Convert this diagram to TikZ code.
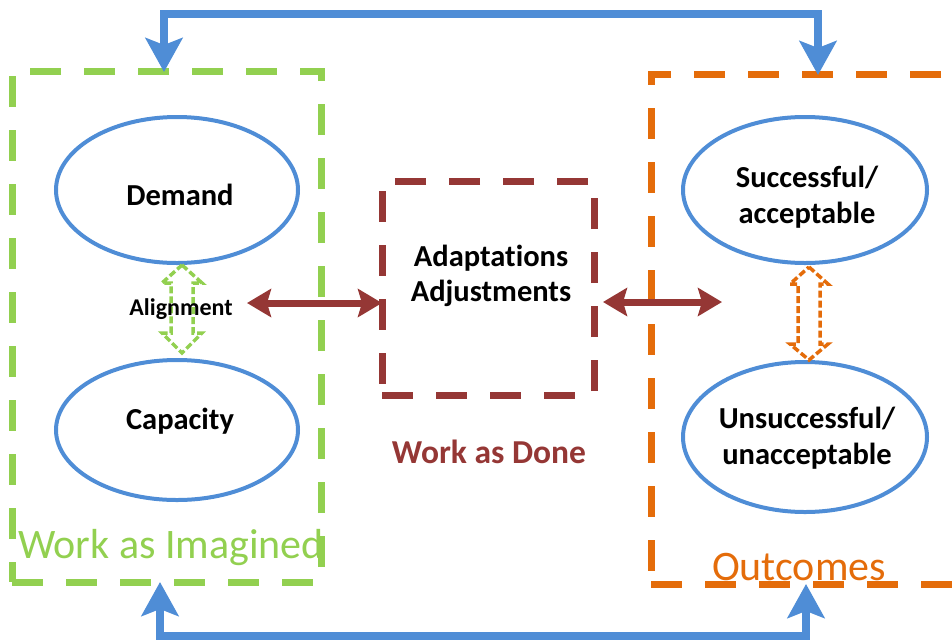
\documentclass[tikz,border=0pt]{standalone}
\usepackage{fontspec}
\setmainfont[RawFeature={-liga;-clig;-dlig}]{Carlito}
\usetikzlibrary{arrows.meta,shapes.geometric}
\definecolor{cblue}{HTML}{4F8DD6}
\definecolor{cgreen}{HTML}{92D050}
\definecolor{corange}{HTML}{E46C0A}
\definecolor{cbrown}{HTML}{953735}
\tikzset{
  ellnode/.style={ellipse, draw=cblue, line width=4pt, minimum width=242pt,
    minimum height=146pt, inner sep=0pt},
  elltext/.style={align=center, text=black, inner sep=0pt,
    font=\bfseries\fontsize{30.5}{36}\selectfont},
  boxline/.style={draw=#1, line width=7pt, dash pattern=on 31pt off 23pt,
    inner sep=0pt, rectangle},
  loopconn/.style={draw=cblue, line width=8pt, {Stealth[length=34pt,width=37pt,inset=7pt]}-{Stealth[length=34pt,width=37pt,inset=7pt]}},
  brownconn/.style={draw=cbrown, line width=7pt, {Stealth[length=24pt,width=28pt,inset=4pt]}-{Stealth[length=24pt,width=28pt,inset=4pt]}},
  hollow/.style={draw=#1, line width=3.5pt, dash pattern=on 7pt off 3pt, line join=miter},
  biglabel/.style={font=\fontsize{42}{46}\selectfont, text=#1, inner sep=0pt},
}
\begin{document}
\begin{tikzpicture}[x=1pt,y=-1pt]
\useasboundingbox (0,0) rectangle (952,643);
\clip (0,0) rectangle (952,643);

% dashed boxes
\node[boxline=cgreen, minimum width=309pt, minimum height=511pt] (wibox) at (166.5,326.5) {};
\node[boxline=cbrown, minimum width=212pt, minimum height=214pt] (wadbox) at (488,288) {};
\node[boxline=corange, minimum width=349pt, minimum height=510pt] (outbox) at (825.5,329) {};

% ellipses
\node[ellnode] (demand) at (177,190) {};
\node[ellnode, minimum height=140pt] (capacity) at (177,430) {};
\node[ellnode, minimum width=244pt] (succ) at (805,190) {};
\node[ellnode, minimum width=244pt, minimum height=150pt] (unsucc) at (805,437) {};
\node[elltext] (demandtext) at (180,195) {Demand};
\node[elltext] (capacitytext) at (180,421) {Capacity};
\node[elltext] (succtext) at (807,197) {Successful/\\acceptable};
\node[elltext] (unsucctext) at (807,438) {Unsuccessful/\\unacceptable};

% center text
\node[font=\bfseries\fontsize{30.5}{35}\selectfont, align=center, inner sep=0pt] (adapt) at (491,276) {Adaptations\\Adjustments};
\node[font=\bfseries\fontsize{33.5}{36}\selectfont, text=cbrown, inner sep=0pt] (wadlabel) at (489,452) {Work as Done};

% hollow double arrows
\draw[hollow=cgreen] (182,265) -- (202,283) -- (193,283) -- (193,333) -- (202,333) -- (182,353)
  -- (162,333) -- (171,333) -- (171,283) -- (162,283) -- cycle;
\draw[hollow=corange] (809,267) -- (828,284) -- (820,284) -- (820,344) -- (828,344) -- (809,360)
  -- (790,344) -- (798,344) -- (798,284) -- (790,284) -- cycle;
\node[font=\bfseries\fontsize{24}{26}\selectfont, inner sep=0pt] (align) at (181,309) {Alignment};

% brown connectors
\coordinate (alignR) at (247,303);
\coordinate (wadL) at (382,303);
\coordinate (wadR) at (603,302);
\coordinate (outL) at (722,302);
\draw[brownconn] (alignR) -- (wadL);
\draw[brownconn] (wadR) -- (outL);

% blue loop connectors
\coordinate (wiTop) at (164,72);
\coordinate (outTop) at (818,75);
\coordinate (topRail) at (0,14);
\draw[loopconn, line join=miter] (wiTop) -- (wiTop |- topRail) -- (outTop |- topRail) -- (outTop);
\coordinate (wiBot) at (160,582);
\coordinate (outBot) at (806,584);
\coordinate (botRail) at (0,636);
\draw[loopconn, line join=miter] (wiBot) -- (wiBot |- botRail) -- (outBot |- botRail) -- (outBot);

% big labels
\node[biglabel=cgreen] (wilabel) at (171,548) {Work as Imagined};
\node[biglabel=corange] (outlabel) at (799,567) {Outcomes};
\end{tikzpicture}
\end{document}
